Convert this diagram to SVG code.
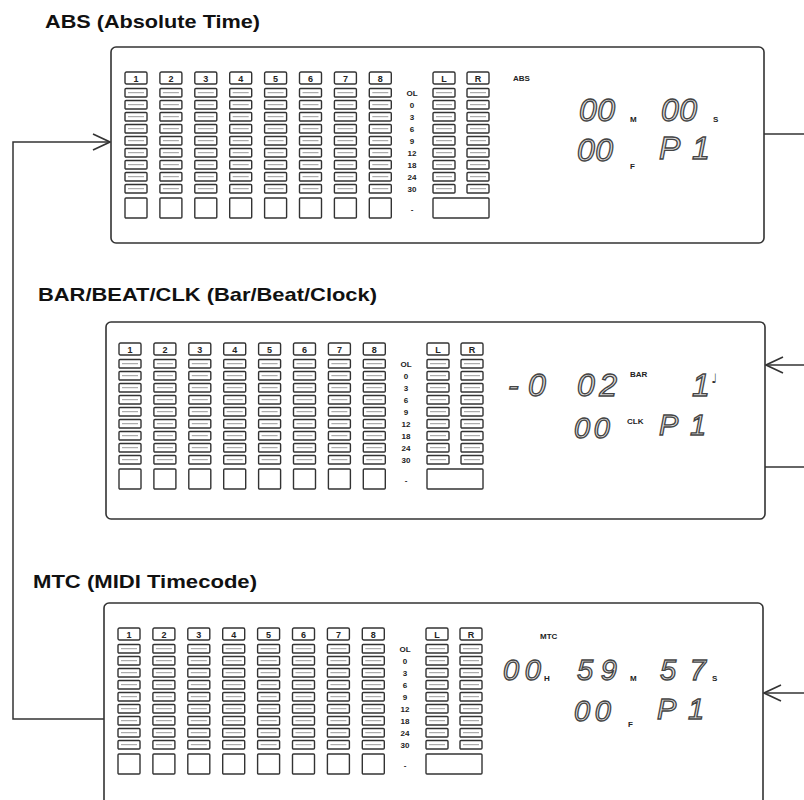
<svg xmlns="http://www.w3.org/2000/svg" width="804" height="800" viewBox="0 0 804 800">
<style>
.bg{fill:#fff}
.panel{fill:none;stroke:#333;stroke-width:1.6}
.sg{fill:none;stroke:#333;stroke-width:1.4}
.inner{fill:none;stroke:#999;stroke-width:1}
.lb{fill:none;stroke:#333;stroke-width:1.4}
.bb{fill:none;stroke:#333;stroke-width:1.4}
.lbt{font-family:"Liberation Sans",Arial,sans-serif;font-weight:bold;font-size:9px;fill:#222;text-anchor:middle}
.sc{font-family:"Liberation Sans",Arial,sans-serif;font-weight:bold;font-size:8px;fill:#222;text-anchor:middle}
.title{font-family:"Liberation Sans",Arial,sans-serif;font-weight:bold;font-size:19px;fill:#111}
.dig{font-family:"Liberation Sans",Arial,sans-serif;font-style:italic;font-size:32px;fill:#e0e0e0;stroke:#444;stroke-width:1.3}
.dig2{font-family:"Liberation Sans",Arial,sans-serif;font-style:italic;font-size:29px;fill:#e0e0e0;stroke:#444;stroke-width:1.3}
.sm{font-family:"Liberation Sans",Arial,sans-serif;font-weight:bold;font-size:8px;fill:#222}
.note{font-family:"DejaVu Sans",sans-serif;font-size:13px;fill:#333}
.conn{fill:none;stroke:#333;stroke-width:1.5}
</style>
<defs>
<marker id="arrow" viewBox="0 0 20 20" refX="19" refY="10" markerWidth="20" markerHeight="20" markerUnits="userSpaceOnUse" orient="auto">
<path d="M2,2 L19,10 L2,18" fill="none" stroke="#333" stroke-width="1.6"/>
</marker>
<g id="segs">
<rect class="sg" x="0" y="16.5" width="22" height="8.5" rx="1"/>
<rect class="sg" x="0" y="28.5" width="22" height="8.5" rx="1"/>
<rect class="sg" x="0" y="40.5" width="22" height="8.5" rx="1"/>
<rect class="sg" x="0" y="52.5" width="22" height="8.5" rx="1"/>
<rect class="sg" x="0" y="64.5" width="22" height="8.5" rx="1"/>
<rect class="sg" x="0" y="76.5" width="22" height="8.5" rx="1"/>
<rect class="sg" x="0" y="88.5" width="22" height="8.5" rx="1"/>
<rect class="sg" x="0" y="100.5" width="22" height="8.5" rx="1"/>
<rect class="sg" x="0" y="112.5" width="22" height="8.5" rx="1"/>
<path class="inner" d="M3,20.7 H19 M3,32.7 H19 M3,44.7 H19 M3,56.7 H19 M3,68.7 H19 M3,80.7 H19 M3,92.7 H19 M3,104.7 H19 M3,116.7 H19"/>
</g>
<g id="col">
<rect class="lb" x="0" y="0" width="22" height="12" rx="1.5"/>
<use href="#segs"/>
<rect class="bb" x="0" y="126" width="22" height="20" rx="1"/>
</g>
<g id="colLR">
<rect class="lb" x="0" y="0" width="22" height="12" rx="1.5"/>
<use href="#segs"/>
</g>
<g id="meter">
<use href="#col" x="0"/>
<use href="#col" x="34.9"/>
<use href="#col" x="69.8"/>
<use href="#col" x="104.7"/>
<use href="#col" x="139.6"/>
<use href="#col" x="174.5"/>
<use href="#col" x="209.4"/>
<use href="#col" x="244.3"/>
<use href="#colLR" x="308"/>
<use href="#colLR" x="342"/>
<rect class="bb" x="308" y="126" width="56" height="20" rx="1"/>
<text class="lbt" x="11" y="9.5">1</text>
<text class="lbt" x="45.9" y="9.5">2</text>
<text class="lbt" x="80.8" y="9.5">3</text>
<text class="lbt" x="115.7" y="9.5">4</text>
<text class="lbt" x="150.6" y="9.5">5</text>
<text class="lbt" x="185.5" y="9.5">6</text>
<text class="lbt" x="220.4" y="9.5">7</text>
<text class="lbt" x="255.3" y="9.5">8</text>
<text class="lbt" x="319" y="9.5">L</text>
<text class="lbt" x="353" y="9.5">R</text>
<text class="sc" x="287" y="24">OL</text>
<text class="sc" x="287" y="36">0</text>
<text class="sc" x="287" y="48">3</text>
<text class="sc" x="287" y="60">6</text>
<text class="sc" x="287" y="72">9</text>
<text class="sc" x="287" y="84">12</text>
<text class="sc" x="287" y="96">18</text>
<text class="sc" x="287" y="108">24</text>
<text class="sc" x="287" y="120">30</text>
<text class="sc" x="287" y="140">-</text>
</g>
</defs>
<rect class="bg" x="0" y="0" width="804" height="800"/>

<g id="connectors">
<path class="conn" d="M104,719 H13 V142 H110" marker-end="url(#arrow)"/>
<path class="conn" d="M764,134 H804"/>
<path class="conn" d="M804,365 H766" marker-end="url(#arrow)"/>
<path class="conn" d="M765,467 H804"/>
<path class="conn" d="M804,693 H764" marker-end="url(#arrow)"/>
</g>

<g id="panel-abs">
<text class="title" x="45" y="28" textLength="215" lengthAdjust="spacingAndGlyphs">ABS (Absolute Time)</text>
<rect class="panel" x="111" y="47" width="653" height="196" rx="5"/>
<use href="#meter" x="125" y="72"/>
<text class="sm" x="513" y="81">ABS</text>
<text class="dig" x="579" y="121" textLength="36">00</text>
<text class="sm" x="630" y="122" font-size="9">M</text>
<text class="dig" x="661" y="121" textLength="36">00</text>
<text class="sm" x="713" y="122" font-size="9">S</text>
<text class="dig" x="577" y="161" textLength="36">00</text>
<text class="sm" x="630" y="169" font-size="9">F</text>
<text class="dig" x="659" y="159">P</text>
<text class="dig" x="692" y="159">1</text>
</g>

<g id="panel-bar">
<text class="title" x="38" y="301" textLength="339" lengthAdjust="spacingAndGlyphs">BAR/BEAT/CLK (Bar/Beat/Clock)</text>
<rect class="panel" x="106" y="322" width="659" height="197" rx="5"/>
<use href="#meter" x="119" y="343"/>
<text class="dig" x="508" y="396">-</text>
<text class="dig" x="528" y="396">0</text>
<text class="dig" x="577" y="396" textLength="40">02</text>
<text class="sm" x="630" y="377">BAR</text>
<text class="dig" x="692" y="396">1</text>
<text class="note" x="711" y="383">♩</text>
<text class="dig2" x="574" y="438" textLength="36">00</text>
<text class="sm" x="627" y="424">CLK</text>
<text class="dig2" x="659" y="435">P</text>
<text class="dig2" x="690" y="435">1</text>
</g>

<g id="panel-mtc">
<text class="title" x="33" y="588" textLength="224" lengthAdjust="spacingAndGlyphs">MTC (MIDI Timecode)</text>
<rect class="panel" x="104" y="603" width="659" height="215" rx="5"/>
<use href="#meter" x="118" y="628"/>
<text class="sm" x="540" y="639">MTC</text>
<text class="dig2" x="503" y="680" textLength="38">00</text>
<text class="sm" x="544" y="681" font-size="9">H</text>
<text class="dig2" x="577" y="680" textLength="40">59</text>
<text class="sm" x="630" y="681" font-size="9">M</text>
<text class="dig2" x="660" y="680" textLength="46">57</text>
<text class="sm" x="712" y="681" font-size="9">S</text>
<text class="dig2" x="574" y="721" textLength="37">00</text>
<text class="sm" x="628" y="727" font-size="9">F</text>
<text class="dig2" x="657" y="719">P</text>
<text class="dig2" x="688" y="719">1</text>
</g>
</svg>
